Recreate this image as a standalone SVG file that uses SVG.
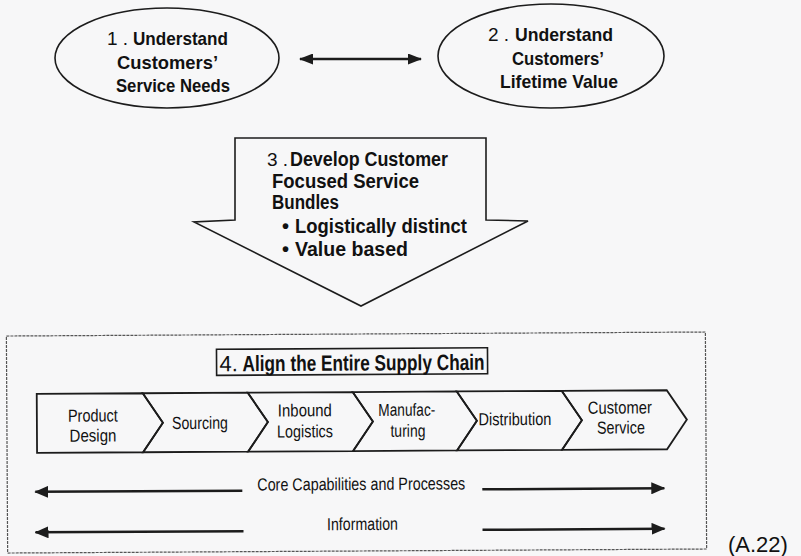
<svg xmlns="http://www.w3.org/2000/svg" width="801" height="556" viewBox="0 0 801 556">
  <style>
    .bg { fill: #f7f7f8; }
    .shape { fill: none; stroke: #1c1c1c; stroke-width: 1.6; stroke-linejoin: miter; }
    .stage { fill: none; stroke: #1c1c1c; stroke-width: 1.8; stroke-linejoin: miter; }
    .frame { fill: none; stroke: #555; stroke-width: 1.2; stroke-dasharray: 3 1; }
    .titlebox { fill: none; stroke: #1c1c1c; stroke-width: 1.6; }
    .link { stroke: #1c1c1c; stroke-width: 2.5; fill: none; }
    .bold { font-family: "Liberation Sans", Arial, sans-serif; font-weight: bold; font-size: 19px; fill: #111; }
    .big { font-size: 20px; }
    .num { font-family: "Liberation Sans", Arial, sans-serif; font-weight: normal; font-size: 19px; fill: #111; }
    .narrow { font-family: "Liberation Sans", Arial, sans-serif; font-size: 17.5px; fill: #111; }
    .title { font-family: "Liberation Sans", Arial, sans-serif; font-size: 22px; fill: #111; }
    .mid { text-anchor: middle; }
  </style>
  <defs>
    <marker id="head" viewBox="0 0 14 12" refX="13" refY="6" markerWidth="14" markerHeight="12" markerUnits="userSpaceOnUse" orient="auto-start-reverse">
      <path d="M0,0 L14,6 L0,12 Z" fill="#1c1c1c"/>
    </marker>
    <marker id="headTop" viewBox="0 0 14 11" refX="13" refY="5.5" markerWidth="14" markerHeight="11" markerUnits="userSpaceOnUse" orient="auto-start-reverse">
      <path d="M0,0 L14,5.5 L0,11 Z" fill="#1c1c1c"/>
    </marker>
  </defs>

  <rect class="bg" x="0" y="0" width="801" height="556"/>

  <!-- step 1 -->
  <g id="node-service-needs">
    <ellipse class="shape" cx="167" cy="58" rx="112" ry="50"/>
    <text class="num" x="107" y="45">1 .</text>
    <text class="bold" x="133" y="45" textLength="95" lengthAdjust="spacingAndGlyphs">Understand</text>
    <text class="bold" x="117" y="68.5" textLength="101" lengthAdjust="spacingAndGlyphs">Customers’</text>
    <text class="bold" x="116" y="92" textLength="114" lengthAdjust="spacingAndGlyphs">Service Needs</text>
  </g>

  <!-- step 2 -->
  <g id="node-lifetime-value">
    <ellipse class="shape" cx="551" cy="56" rx="113" ry="52"/>
    <text class="num" x="488" y="41">2 .</text>
    <text class="bold" x="515" y="41" textLength="98" lengthAdjust="spacingAndGlyphs">Understand</text>
    <text class="bold" x="512" y="65" textLength="92" lengthAdjust="spacingAndGlyphs">Customers’</text>
    <text class="bold" x="500" y="88" textLength="118" lengthAdjust="spacingAndGlyphs">Lifetime Value</text>
  </g>

  <!-- step 3: block arrow -->
  <g id="node-service-bundles">
    <polygon class="shape" points="235,138 486,138 486,220 528,221 361,306 194,222 235,220"/>
    <text class="num big" x="267" y="166">3 .</text>
    <text class="bold big" x="290" y="166" textLength="158" lengthAdjust="spacingAndGlyphs">Develop Customer</text>
    <text class="bold big" x="272" y="188" textLength="147" lengthAdjust="spacingAndGlyphs">Focused Service</text>
    <text class="bold big" x="272" y="209" textLength="67" lengthAdjust="spacingAndGlyphs">Bundles</text>
    <text class="bold big" x="282" y="233">•</text>
    <text class="bold big" x="295" y="233" textLength="172" lengthAdjust="spacingAndGlyphs">Logistically distinct</text>
    <text class="bold big" x="282" y="256">•</text>
    <text class="bold big" x="295" y="256" textLength="113" lengthAdjust="spacingAndGlyphs">Value based</text>
  </g>

  <!-- step 4: supply chain frame -->
  <g id="node-supply-chain" transform="rotate(-0.33 360 440)">
    <rect class="frame" x="7" y="334" width="699" height="217"/>
    <rect class="titlebox" x="217" y="348.5" width="271" height="26"/>
    <text class="title" x="220" y="370.5">4.</text>
    <text class="title" x="243" y="370.5" font-weight="bold" textLength="242" lengthAdjust="spacingAndGlyphs">Align the Entire Supply Chain</text>

    <g id="stage-product-design">
      <polygon class="stage" points="37,392 143,392 163,421.5 143,451 37,451"/>
      <text class="narrow mid" x="93" y="420" textLength="50" lengthAdjust="spacingAndGlyphs">Product</text>
      <text class="narrow mid" x="93" y="440" textLength="47" lengthAdjust="spacingAndGlyphs">Design</text>
    </g>
    <g id="stage-sourcing">
      <polygon class="stage" points="143,392 248,392 268,421.5 248,451 143,451 163,421.5"/>
      <text class="narrow mid" x="200" y="428" textLength="56" lengthAdjust="spacingAndGlyphs">Sourcing</text>
    </g>
    <g id="stage-inbound-logistics">
      <polygon class="stage" points="248,392 353,392 373,421.5 353,451 248,451 268,421.5"/>
      <text class="narrow mid" x="305" y="416" textLength="54" lengthAdjust="spacingAndGlyphs">Inbound</text>
      <text class="narrow mid" x="305" y="437" textLength="56" lengthAdjust="spacingAndGlyphs">Logistics</text>
    </g>
    <g id="stage-manufacturing">
      <polygon class="stage" points="353,392 457,392 477,421.5 457,451 353,451 373,421.5"/>
      <text class="narrow mid" x="407" y="416" textLength="57" lengthAdjust="spacingAndGlyphs">Manufac-</text>
      <text class="narrow mid" x="408" y="437" textLength="35" lengthAdjust="spacingAndGlyphs">turing</text>
    </g>
    <g id="stage-distribution">
      <polygon class="stage" points="457,392 562,392 582,421.5 562,451 457,451 477,421.5"/>
      <text class="narrow mid" x="515" y="426" textLength="73" lengthAdjust="spacingAndGlyphs">Distribution</text>
    </g>
    <g id="stage-customer-service">
      <polygon class="stage" points="562,392 667,392 687,421.5 667,451 562,451 582,421.5"/>
      <text class="narrow mid" x="620" y="415" textLength="64" lengthAdjust="spacingAndGlyphs">Customer</text>
      <text class="narrow mid" x="621" y="435" textLength="48" lengthAdjust="spacingAndGlyphs">Service</text>
    </g>

    <text class="narrow mid" x="361" y="490" textLength="208" lengthAdjust="spacingAndGlyphs">Core Capabilities and Processes</text>
    <text class="narrow mid" x="362" y="530" textLength="71" lengthAdjust="spacingAndGlyphs">Information</text>
  </g>

  <!-- connectors -->
  <g id="connectors">
    <line class="link" x1="300" y1="59" x2="421" y2="59" marker-start="url(#headTop)" marker-end="url(#headTop)"/>
    <g transform="rotate(-0.33 360 440)">
      <line class="link" x1="242" y1="490" x2="35" y2="490" marker-end="url(#head)"/>
      <line class="link" x1="482" y1="490" x2="664" y2="490" marker-end="url(#head)"/>
      <line class="link" x1="243" y1="530.5" x2="35" y2="530.5" marker-end="url(#head)"/>
      <line class="link" x1="482" y1="530.5" x2="664" y2="530.5" marker-end="url(#head)"/>
    </g>
  </g>

  <text x="728" y="552" font-family="Liberation Sans, Arial, sans-serif" font-size="22px" fill="#111">(A.22)</text>
</svg>
